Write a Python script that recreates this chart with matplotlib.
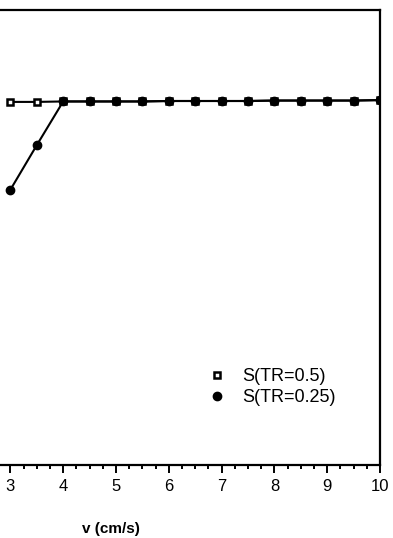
import numpy as np
import matplotlib.pyplot as plt
from matplotlib.ticker import MultipleLocator

# Separation vs velocity for two TR values
v_half = [3.0, 3.5, 4.0, 4.5, 5.0, 5.5, 6.0, 6.5, 7.0, 7.5, 8.0, 8.5, 9.0, 9.5, 10.0]
s_half = [0.798, 0.798, 0.799, 0.799, 0.799, 0.799, 0.800, 0.800, 0.800, 0.800, 0.801, 0.801, 0.801, 0.801, 0.802]
v_quarter = [3.0, 3.5, 4.0, 4.5, 5.0, 5.5, 6.0, 6.5, 7.0, 7.5, 8.0, 8.5, 9.0, 9.5, 10.0]
s_quarter = [0.605, 0.703, 0.799, 0.799, 0.799, 0.799, 0.800, 0.800, 0.800, 0.800, 0.801, 0.801, 0.801, 0.801, 0.802]
v_ticks = [3, 4, 5, 6, 7, 8, 9, 10]

plt.rcParams['font.family'] = ['Liberation Sans', 'DejaVu Sans']
plt.rcParams['font.size'] = 12

fig = plt.figure(figsize=(3.93, 5.38), dpi=100)
# axes runs off the left edge of the figure, only v >= 3 shows
ax = fig.add_axes([-148/393, 1 - 465/538, (380 + 148)/393, (465 - 10)/538])

ax.plot(v_half, s_half, c='black', lw=1.5, marker='s', ms=5, mfc='white', mec='black', mew=1.8,
        label='S(TR=0.5)', zorder=3)
ax.plot(v_quarter, s_quarter, c='black', lw=1.5, marker='o', ms=6, mfc='black', mec='black',
        label='S(TR=0.25)', zorder=4)

ax.set_xlim(0, 10)
ax.set_ylim(0, 1)
ax.set_xticks(v_ticks)
ax.xaxis.set_minor_locator(MultipleLocator(0.25))
ax.tick_params(axis='x', which='major', direction='out', length=6, width=1.4, pad=4, labelsize=12)
ax.tick_params(axis='x', which='minor', direction='out', length=3, width=1.4)
ax.set_yticks([])
for sp in ax.spines.values():
    sp.set_linewidth(1.6)
ax.set_xlabel('v (cm/s)', fontweight='bold', fontsize=11)
ax.xaxis.set_label_coords(0.49, -0.125)

# legend without line segments, only the markers
h1 = plt.Line2D([], [], ls='none', marker='s', ms=5, mfc='white', mec='black', mew=1.8)
h2 = plt.Line2D([], [], ls='none', marker='o', ms=6, mfc='black', mec='black')
ax.legend([h1, h2], ['S(TR=0.5)', 'S(TR=0.25)'], frameon=False, loc='upper left',
          bbox_to_anchor=(0.644, 0.248), handlelength=1.0, handletextpad=0.9,
          labelspacing=0.2, fontsize=13)

fig.savefig('out.png', dpi=100)
